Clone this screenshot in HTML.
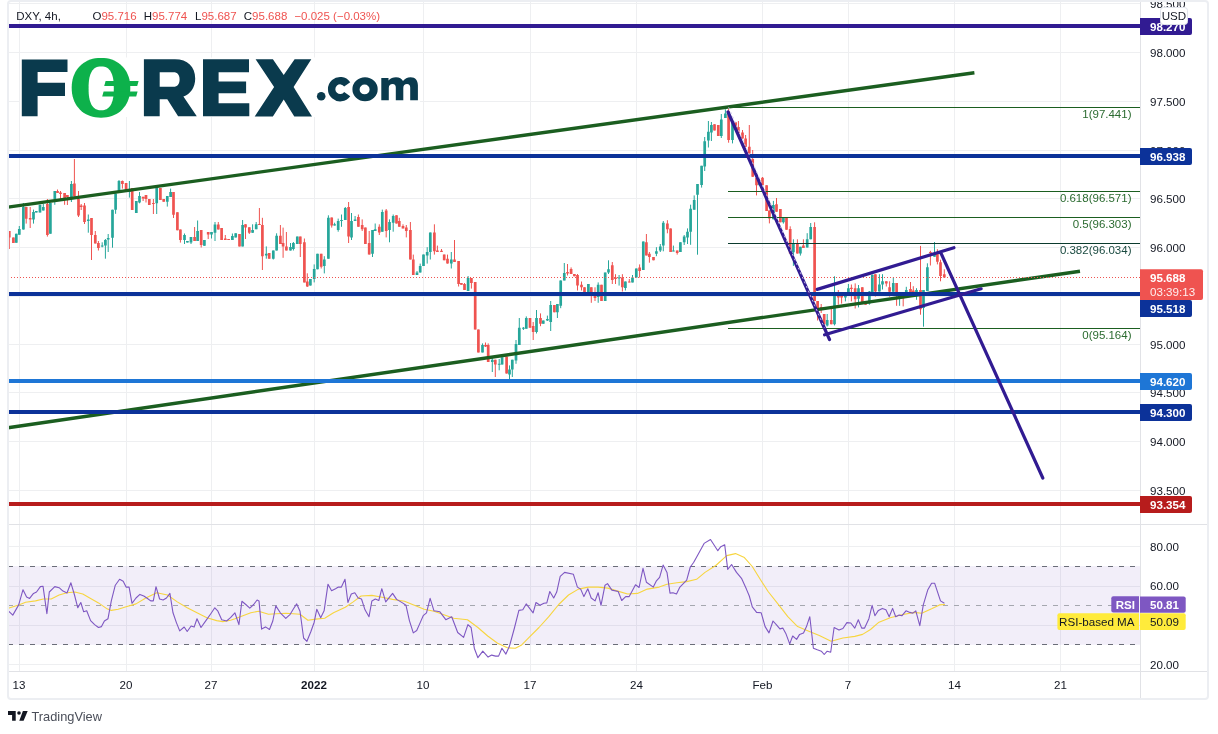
<!DOCTYPE html>
<html><head><meta charset="utf-8"><title>DXY 4h</title>
<style>html,body{margin:0;padding:0;background:#fff;overflow:hidden}body{width:1218px;height:734px;position:relative;font-family:"Liberation Sans",sans-serif}</style>
</head><body>
<svg width="1218" height="734" viewBox="0 0 1218 734" style="position:absolute;left:0;top:0;will-change:transform">
<rect width="1218" height="734" fill="#ffffff"/>
<path d="M19.5 1V671.5 M126.5 1V671.5 M211.5 1V671.5 M314.5 1V671.5 M423.5 1V671.5 M530.5 1V671.5 M636.5 1V671.5 M762.5 1V671.5 M848.5 1V671.5 M954.5 1V671.5 M1060.5 1V671.5 M8 3.5H1140.5 M8 52.5H1140.5 M8 101.5H1140.5 M8 150.5H1140.5 M8 198.5H1140.5 M8 247.5H1140.5 M8 296.5H1140.5 M8 344.5H1140.5 M8 392.5H1140.5 M8 441.5H1140.5 M8 490.5H1140.5 M8 546.5H1140.5 M8 586.5H1140.5 M8 625.5H1140.5 M8 664.5H1140.5" stroke="#eeeff1" stroke-width="1" fill="none"/>
<rect x="8" y="566.1" width="1132.5" height="78.7" fill="#7e57c2" fill-opacity="0.1"/>
<path d="M8 566.5H1140.5 M8 644.5H1140.5" stroke="#6a6d78" stroke-width="1" stroke-dasharray="5 6" fill="none"/>
<path d="M8 605.5H1140.5" stroke="#a5a7af" stroke-width="1" stroke-dasharray="5 6" fill="none"/>
<polyline points="8.3,608.2 18.7,604.9 25.6,602.3 35.5,600.9 43.3,599 51.2,599 59.1,595 67,592.7 74.9,592 82.8,594 90.6,598.4 98.5,602.9 106.4,608.4 111.3,610.4 118.2,609.2 126.1,606.8 136,603.9 145.8,598 156.7,592.7 167.5,595 177.3,601.9 187.2,607.8 197,612.8 206.9,617.7 216.7,620.6 222.7,621.6 230.5,620.2 235,618.7 242.9,615.7 250.8,612.8 258.6,611.2 268.5,614.3 276.4,613.7 286.2,613.2 300,614.3 307.9,620.2 315.8,619.1 324.7,618.3 333.5,612.8 345.3,607.2 353.2,601.9 361.1,596 371.9,595.4 380.8,597 392.6,599.4 404.5,601.3 414.3,605.3 424.2,609.2 434,611.2 443.9,614.7 453.7,618.3 467.5,619.7 477.9,627.5 487.7,636 497.6,643.3 507.4,647.8 515.3,648.2 521.2,645.3 529.1,637.4 539,627.5 548.8,616.7 558.7,604.5 568.5,595 578.4,589.1 588.2,587.1 598.1,587.1 607.9,588.1 617.8,591.1 627.6,594 637.5,593.4 647.3,589.1 659.2,587.1 667,584.2 676.9,582.8 686.7,581.6 696.6,579.3 705,572.4 715.8,565.5 726.7,555.6 735.5,553.6 744.4,557.6 752.3,566.5 760.2,579.3 768.1,591.5 777.9,603.9 787.8,616.7 797.6,626.6 809.4,631.5 819.3,635.4 831.1,641.3 842.9,638 854.8,636.4 862.6,634.4 870.5,629.5 878.4,622.6 890.2,617.7 902,614.7 913.9,612.4 921.7,613.2 931.6,608.8 939.5,604.9 945,604.5" fill="none" stroke="#f7d53f" stroke-width="1.1" stroke-linejoin="round"/>
<polyline points="8.3,610.8 12.8,615.1 18.7,604.9 23,589.7 26.6,597 29.6,598.4 33.5,593.4 36.5,592 40.4,586.6 43,586.2 46.9,613.7 49.3,592 54.8,586.6 59.1,587.7 63,591.1 67,593 70.9,582.8 74.5,595 77.8,607.8 80.8,602.5 83.7,611.8 86.7,610.8 90.6,620.6 94.6,624.6 98.5,627.5 101.5,626.6 104.4,621 108,618.7 111.3,600.9 115.3,585.2 119.6,579.3 123.2,581.2 126.1,587.1 129.1,587.1 132,603.3 136,598 139.9,594.4 143.8,596 146.8,598 150.7,600.9 153.3,600.9 156,586.7 159.6,599 163.1,600 166.5,598 169.9,593.4 173,612.8 176.4,622.6 179.7,630.9 184.2,627 187.2,631.5 191.1,626 194.1,627.1 197,618.7 201,627.5 205.9,620.6 210.8,613.7 214.8,607.8 217.7,610.8 221.7,619.7 226.6,621 230.5,617.7 234.9,612.8 238.9,624.6 241.9,601.3 245.8,604.5 249.8,608.2 253.7,604.5 257.1,600 259,600.9 261.6,629.1 265.5,626.9 269.5,629.5 272.8,621 275.8,605.9 280.3,612.8 285.8,618.3 290.2,614.3 293.5,608.8 296.7,603.9 300,611.2 303.6,638 306.9,641.3 310.9,631.5 314.2,622.2 316.8,609.2 320.7,617.7 324.1,610.8 328,584.2 331.6,590.7 335.5,588.7 338.4,587.1 341.4,587.1 345,579.3 347.9,602.5 351.3,594 354.8,592.7 358.2,598 361.5,599 365,609.8 369,616.7 371.9,600.9 375.3,599 378.8,600.5 381.8,588.7 385.7,601.9 392.6,593.4 396.6,599.4 402.5,602.9 406,605.3 409.4,620.6 413.3,632.9 416.7,630.5 420.2,622.6 423.2,615.7 426.5,612.8 430.1,598.4 434,610.8 439.9,611.8 445.8,619.7 451.7,616.7 457.7,632.5 463.6,637.4 467.9,624.6 471.1,627.5 474.3,648.2 477.9,657.7 482.8,651.2 488.1,657.1 491.7,655.1 495.6,656.1 498.6,656.1 501.9,648.2 505.9,654.1 509.4,646.3 514.3,628.5 518.9,610.4 522.8,609.8 526.2,603.9 533.1,612.8 536,602.5 540,605.3 543.9,603.3 546.8,602.9 549.8,591.5 553.7,598 556.7,592.1 560.2,576.3 564.6,572.4 573.4,574.3 577.4,587.1 580.7,589.1 583.9,596.6 587.8,588.7 591.2,598 595.1,600.9 598.1,592.7 601,605.3 605,585.2 607.5,583.6 611.9,590.1 618.2,591.5 621.7,600.5 625.7,596.6 629.2,596.6 635.5,584.8 639.1,587.5 643,568.4 646.4,582.2 653.3,587.1 656.2,581.2 659.6,577.3 663.1,565.1 667,572.4 670,593.1 673,592.7 676.5,594 679.9,587.1 686.7,580.2 690.3,567 693.6,562.5 698.6,553.6 704.1,543.4 710.5,539.5 717.8,550.7 720.8,546.7 724.7,544.8 727.7,569.4 731.6,564.5 736.5,572.4 741.5,578.3 746.4,589.1 749.3,596 752.3,606.8 756.6,612.4 761.2,612.8 765.1,626.6 769,632.9 773,621 776.3,624.6 779.9,628.9 782.8,628.1 785.8,633.4 789.7,643.9 792.7,636 796.6,639.4 799.6,634.4 803.5,632.9 806.5,626.6 809.8,616.7 813.4,648.2 817.3,649.8 821.3,651.2 824.2,654.5 827.2,651.2 830.7,652.2 834.1,627.5 839,630.1 842.9,628.5 846.9,622.6 850.8,623 854.8,628.1 858.3,619.7 861.7,628.1 864.6,628.1 868.9,618.7 872.1,605.3 874.9,615.7 878.4,610.4 882.3,608.4 885.9,609.8 889.2,616.7 892.6,608.4 895.7,616.7 899.1,615.1 902,615.7 906,610.8 909.9,612.4 912.9,613.2 915.8,610.8 919.8,625.6 923.3,604.9 927.7,590.1 931.6,583.2 934.6,583.2 940.5,600.9 944.4,603.3" fill="none" stroke="#7e57c2" stroke-width="1.1" stroke-linejoin="round"/>
<path d="M16.3 233.7V242.7 M19.3 226.0V234.7 M23.4 203.0V229.6 M33.5 209.6V223.6 M36.3 211.0V212.5 M40.0 204.8V212.5 M43.3 204.0V210.5 M50.4 203.0V233.7 M54.8 191.0V204.8 M71.4 181.0V202.0 M88.3 214.5V232.7 M102.2 242.3V247.3 M105.4 239.0V258.7 M108.2 234.0V252.0 M112.5 209.7V247.7 M115.6 193.5V213.8 M119.0 180.0V192.5 M129.4 181.0V197.6 M136.3 201.0V213.0 M139.5 192.0V203.3 M156.7 185.0V214.0 M167.3 196.0V206.6 M170.6 188.6V197.0 M184.5 233.5V244.0 M187.4 241.0V242.5 M191.0 237.0V244.0 M197.6 220.5V241.0 M204.4 240.0V245.8 M211.5 232.0V238.5 M215.0 222.0V241.0 M232.4 233.5V240.0 M235.7 233.3V237.4 M242.6 220.0V246.4 M252.6 224.3V232.8 M256.2 222.0V229.2 M266.3 246.4V258.7 M273.3 250.5V259.5 M276.6 233.3V250.5 M290.5 243.0V250.5 M293.4 242.0V250.5 M297.3 236.6V244.0 M310.4 279.0V285.6 M314.2 264.4V282.4 M317.5 253.8V269.3 M324.3 256.2V273.4 M328.4 215.3V258.7 M334.6 222.7V225.6 M338.2 218.6V231.7 M341.5 214.5V226.8 M345.3 207.0V220.0 M351.5 213.0V240.0 M355.1 216.0V221.0 M372.5 230.0V257.0 M375.2 223.5V231.0 M382.3 209.6V231.7 M389.5 219.4V242.3 M393.2 214.5V231.7 M417.0 271.0V275.0 M420.2 263.6V272.6 M423.5 254.6V266.0 M427.2 247.2V263.6 M430.3 232.5V259.5 M451.3 252.0V268.5 M468.1 276.0V291.0 M482.5 343.4V352.4 M492.3 358.0V372.0 M499.2 359.0V370.3 M502.1 357.3V364.6 M509.5 365.4V379.0 M512.3 359.7V377.0 M516.0 340.0V363.8 M519.3 318.0V345.0 M523.4 327.0V330.0 M526.3 316.4V328.7 M536.5 310.0V333.5 M543.3 320.5V323.8 M547.4 315.6V321.0 M550.7 301.0V331.0 M557.4 304.0V318.0 M560.7 280.4V308.2 M564.3 263.0V280.4 M588.4 284.0V292.0 M598.2 282.4V302.8 M605.2 272.6V301.0 M608.5 260.3V274.0 M619.1 275.0V285.6 M625.4 281.5V290.5 M632.5 275.0V282.4 M636.3 268.5V277.5 M643.3 241.5V270.0 M656.4 247.2V256.2 M660.3 244.0V252.0 M663.3 221.0V251.3 M673.4 245.6V251.3 M680.4 242.3V252.0 M684.2 235.0V245.0 M687.5 228.4V244.0 M690.6 204.7V244.8 M694.2 195.4V209.7 M697.5 184.0V254.7 M701.6 165.8V187.6 M704.7 137.0V171.0 M708.4 121.0V147.5 M711.4 122.0V141.0 M721.3 114.0V138.0 M725.4 109.3V118.0 M732.5 122.2V143.4 M759.5 181.8V185.2 M773.4 200.9V219.3 M783.4 218.0V223.6 M793.4 239.3V265.9 M800.4 246.8V255.6 M807.2 233.2V247.5 M810.7 223.0V239.3 M827.2 314.0V326.5 M834.5 276.3V325.4 M845.4 296.0V301.4 M848.4 284.0V292.7 M858.5 285.0V307.4 M869.4 291.0V304.7 M872.3 274.7V292.0 M879.4 274.2V291.6 M882.5 274.2V289.5 M893.3 277.5V291.7 M899.6 296.0V305.8 M906.3 286.8V292.2 M916.5 288.2V299.8 M923.5 290.0V326.7 M927.4 263.3V291.0 M934.5 242.0V256.8" stroke="#26a69a" stroke-width="1" fill="none"/>
<path d="M14.95 233.7h2.7V242.7h-2.7Z M17.95 229.0h2.7V234.7h-2.7Z M22.05 207.0h2.7V229.6h-2.7Z M32.15 212.0h2.7V219.5h-2.7Z M34.95 211.0h2.7V212.5h-2.7Z M38.65 204.8h2.7V212.5h-2.7Z M41.95 207.0h2.7V210.5h-2.7Z M49.05 203.0h2.7V233.7h-2.7Z M53.45 191.0h2.7V199.0h-2.7Z M70.05 184.0h2.7V197.0h-2.7Z M86.95 219.5h2.7V221.0h-2.7Z M100.85 245.6h2.7V246.6h-2.7Z M104.05 240.0h2.7V245.6h-2.7Z M106.85 238.0h2.7V239.6h-2.7Z M111.15 209.7h2.7V237.8h-2.7Z M114.25 193.5h2.7V209.7h-2.7Z M117.65 181.0h2.7V192.5h-2.7Z M128.05 191.0h2.7V192.0h-2.7Z M134.95 201.0h2.7V213.0h-2.7Z M138.15 196.0h2.7V202.5h-2.7Z M155.35 187.0h2.7V203.3h-2.7Z M165.95 196.0h2.7V201.7h-2.7Z M169.25 192.0h2.7V197.0h-2.7Z M183.15 235.0h2.7V240.0h-2.7Z M186.05 241.0h2.7V242.5h-2.7Z M189.65 237.0h2.7V242.5h-2.7Z M196.25 231.0h2.7V241.0h-2.7Z M203.05 240.0h2.7V245.8h-2.7Z M210.15 232.0h2.7V234.4h-2.7Z M213.65 224.6h2.7V232.7h-2.7Z M231.05 236.0h2.7V240.0h-2.7Z M234.35 233.3h2.7V237.4h-2.7Z M241.25 225.0h2.7V246.4h-2.7Z M251.25 230.0h2.7V232.8h-2.7Z M254.85 224.3h2.7V229.2h-2.7Z M264.95 253.8h2.7V255.4h-2.7Z M271.95 250.5h2.7V258.7h-2.7Z M275.25 235.8h2.7V250.5h-2.7Z M289.15 247.0h2.7V250.5h-2.7Z M292.05 243.0h2.7V249.0h-2.7Z M295.95 236.6h2.7V244.0h-2.7Z M309.05 279.0h2.7V285.6h-2.7Z M312.85 269.0h2.7V279.0h-2.7Z M316.15 253.8h2.7V269.3h-2.7Z M322.95 259.5h2.7V266.0h-2.7Z M327.05 217.8h2.7V258.7h-2.7Z M333.25 224.3h2.7V225.6h-2.7Z M336.85 221.0h2.7V230.0h-2.7Z M340.15 220.0h2.7V221.0h-2.7Z M343.95 208.0h2.7V220.0h-2.7Z M350.15 221.0h2.7V237.4h-2.7Z M353.75 219.4h2.7V221.0h-2.7Z M371.15 230.0h2.7V253.8h-2.7Z M373.85 229.2h2.7V231.0h-2.7Z M380.95 212.0h2.7V231.7h-2.7Z M388.15 222.0h2.7V230.0h-2.7Z M391.85 216.0h2.7V222.7h-2.7Z M415.65 272.6h2.7V275.0h-2.7Z M418.85 266.0h2.7V272.6h-2.7Z M422.15 254.6h2.7V266.0h-2.7Z M425.85 252.0h2.7V255.4h-2.7Z M428.95 232.5h2.7V252.0h-2.7Z M449.95 259.5h2.7V263.6h-2.7Z M466.75 278.0h2.7V291.0h-2.7Z M481.15 345.0h2.7V352.4h-2.7Z M490.95 359.7h2.7V362.0h-2.7Z M497.85 363.7h2.7V364.7h-2.7Z M500.75 357.3h2.7V364.6h-2.7Z M508.15 369.5h2.7V374.4h-2.7Z M510.95 359.7h2.7V369.5h-2.7Z M514.65 344.0h2.7V360.5h-2.7Z M517.95 327.8h2.7V345.0h-2.7Z M522.05 327.8h2.7V328.8h-2.7Z M524.95 318.0h2.7V328.7h-2.7Z M535.15 318.0h2.7V332.0h-2.7Z M541.95 320.5h2.7V323.8h-2.7Z M546.05 318.9h2.7V320.5h-2.7Z M549.35 305.0h2.7V322.0h-2.7Z M556.05 304.0h2.7V312.3h-2.7Z M559.35 280.4h2.7V305.8h-2.7Z M562.95 273.0h2.7V280.4h-2.7Z M587.05 284.0h2.7V292.0h-2.7Z M596.85 284.8h2.7V297.0h-2.7Z M603.85 272.6h2.7V301.0h-2.7Z M607.15 269.3h2.7V272.6h-2.7Z M617.75 277.4h2.7V278.4h-2.7Z M624.05 281.5h2.7V288.0h-2.7Z M631.15 277.5h2.7V282.4h-2.7Z M634.95 268.5h2.7V277.5h-2.7Z M641.95 241.5h2.7V270.0h-2.7Z M655.05 251.3h2.7V253.8h-2.7Z M658.95 246.4h2.7V250.5h-2.7Z M661.95 222.7h2.7V245.6h-2.7Z M672.05 250.4h2.7V251.4h-2.7Z M679.05 242.3h2.7V252.0h-2.7Z M682.85 236.6h2.7V242.3h-2.7Z M686.15 231.7h2.7V237.4h-2.7Z M689.25 208.8h2.7V231.7h-2.7Z M692.85 200.0h2.7V209.7h-2.7Z M696.15 184.0h2.7V194.8h-2.7Z M700.25 165.8h2.7V185.0h-2.7Z M703.35 141.3h2.7V166.5h-2.7Z M707.05 131.8h2.7V140.6h-2.7Z M710.05 125.0h2.7V132.5h-2.7Z M719.95 119.5h2.7V136.0h-2.7Z M724.05 113.4h2.7V118.0h-2.7Z M731.15 122.2h2.7V140.0h-2.7Z M758.15 181.8h2.7V185.2h-2.7Z M772.05 205.0h2.7V219.3h-2.7Z M782.05 218.0h2.7V222.3h-2.7Z M792.05 244.0h2.7V252.2h-2.7Z M799.05 246.8h2.7V253.6h-2.7Z M805.85 239.3h2.7V247.5h-2.7Z M809.35 227.0h2.7V239.3h-2.7Z M825.85 320.0h2.7V325.4h-2.7Z M833.15 296.0h2.7V324.3h-2.7Z M844.05 296.0h2.7V297.6h-2.7Z M847.05 288.3h2.7V292.7h-2.7Z M857.15 288.3h2.7V298.7h-2.7Z M868.05 291.6h2.7V303.6h-2.7Z M870.95 274.7h2.7V292.0h-2.7Z M878.05 284.5h2.7V291.6h-2.7Z M881.15 281.3h2.7V284.5h-2.7Z M891.95 283.0h2.7V291.7h-2.7Z M898.25 296.0h2.7V298.2h-2.7Z M904.95 290.0h2.7V292.2h-2.7Z M915.15 290.0h2.7V292.2h-2.7Z M922.15 290.0h2.7V308.0h-2.7Z M926.05 267.2h2.7V291.0h-2.7Z M933.15 253.5h2.7V256.8h-2.7Z" fill="#26a69a"/>
<path d="M9.3 231.0V249.0 M13.4 237.5V243.0 M26.2 207.0V223.6 M30.2 207.0V228.0 M47.4 199.0V236.6 M57.5 189.5V193.0 M60.5 191.0V199.0 M64.6 193.0V204.8 M67.4 195.0V205.0 M74.4 159.0V196.6 M78.5 191.0V217.0 M81.2 204.0V210.0 M84.5 203.0V224.0 M91.5 218.0V260.0 M95.3 231.0V243.5 M98.4 241.0V250.5 M122.4 180.5V188.6 M126.1 183.0V190.0 M132.2 188.0V210.0 M143.1 196.8V201.0 M146.0 195.0V202.5 M149.3 199.0V205.0 M153.4 199.0V214.0 M160.4 188.0V200.0 M163.7 199.0V201.7 M173.5 192.0V218.0 M177.4 212.3V230.3 M180.4 229.5V242.6 M194.6 227.0V241.0 M201.2 230.0V247.5 M208.2 232.0V239.0 M218.3 222.0V229.5 M221.6 228.0V240.0 M225.3 235.0V240.0 M228.6 239.0V240.0 M239.5 234.0V246.4 M245.5 224.3V239.0 M249.3 227.3V234.0 M259.4 208.0V225.0 M262.4 217.8V270.0 M269.2 253.0V258.7 M280.4 225.0V244.0 M283.1 227.6V257.8 M286.4 232.0V250.5 M300.3 236.6V257.0 M304.4 238.5V282.4 M307.3 273.3V287.0 M321.2 253.8V268.5 M331.7 217.5V227.6 M348.6 202.0V243.0 M358.4 214.5V226.8 M362.2 219.4V231.0 M365.4 227.6V244.0 M369.2 231.0V254.6 M379.3 224.3V235.0 M386.2 209.0V237.4 M396.5 215.3V223.5 M399.3 217.8V226.8 M403.0 224.3V228.4 M406.3 225.0V237.4 M410.4 222.0V259.5 M413.3 254.6V275.0 M434.4 224.3V254.6 M437.4 245.6V252.0 M441.5 249.0V252.0 M444.2 254.6V260.3 M447.5 254.6V263.6 M454.5 240.0V262.0 M458.6 261.0V286.5 M461.4 283.0V284.8 M464.5 283.0V290.0 M471.4 278.0V288.6 M475.2 282.0V329.5 M478.4 329.5V352.4 M485.5 342.5V347.0 M488.2 343.4V362.0 M495.3 359.7V377.0 M506.6 356.5V373.6 M530.0 318.0V327.8 M533.2 322.0V340.0 M540.5 313.4V326.2 M554.4 305.0V312.3 M567.5 264.0V275.5 M571.1 267.4V274.0 M574.4 274.0V276.3 M577.5 274.0V290.5 M581.5 281.5V290.5 M584.5 287.3V292.0 M591.3 287.3V302.8 M595.0 287.3V301.0 M601.5 284.8V301.0 M612.3 262.0V284.0 M615.5 274.2V284.0 M622.4 274.2V291.5 M629.3 279.0V282.4 M639.6 264.4V277.5 M646.4 234.0V255.4 M649.4 252.0V262.7 M653.5 257.0V260.3 M667.4 220.2V233.3 M670.6 228.4V252.0 M677.2 250.5V254.6 M714.5 124.3V130.4 M718.3 125.0V136.0 M728.6 107.3V142.7 M735.6 122.2V128.4 M738.4 121.0V133.0 M742.5 130.0V138.6 M745.6 135.0V146.8 M749.3 125.0V153.6 M752.7 150.0V177.0 M756.5 177.7V195.4 M762.5 177.0V185.2 M766.6 185.2V211.0 M769.4 210.4V223.4 M776.5 198.0V211.8 M780.4 209.0V222.3 M786.5 218.0V229.8 M790.2 226.3V253.6 M797.4 239.3V253.6 M803.4 239.3V248.0 M814.6 222.3V301.0 M817.6 301.0V320.5 M821.2 304.0V313.0 M824.2 314.0V324.3 M831.3 309.0V324.3 M838.3 290.0V304.7 M841.6 296.0V303.6 M851.4 284.5V301.4 M855.2 283.4V308.5 M862.3 287.2V304.1 M865.6 303.6V304.7 M875.4 274.2V296.5 M886.3 281.3V286.5 M889.6 281.3V296.6 M896.6 283.0V305.8 M903.2 296.0V306.4 M910.5 282.0V292.2 M913.3 286.2V292.2 M920.5 245.9V314.7 M930.4 250.8V265.5 M937.4 249.2V264.4 M940.5 259.7V281.3 M944.3 269.3V277.5" stroke="#ef5350" stroke-width="1" fill="none"/>
<path d="M7.95 231.0h2.7V237.5h-2.7Z M12.05 237.5h2.7V243.0h-2.7Z M24.85 207.0h2.7V218.7h-2.7Z M28.85 218.0h2.7V219.5h-2.7Z M46.05 204.0h2.7V235.0h-2.7Z M56.15 191.0h2.7V193.0h-2.7Z M59.15 192.5h2.7V194.0h-2.7Z M63.25 193.0h2.7V199.0h-2.7Z M66.05 195.0h2.7V197.0h-2.7Z M73.05 183.5h2.7V196.6h-2.7Z M77.15 199.0h2.7V215.4h-2.7Z M79.85 205.6h2.7V207.0h-2.7Z M83.15 205.6h2.7V222.0h-2.7Z M90.15 218.0h2.7V235.0h-2.7Z M93.95 235.0h2.7V243.5h-2.7Z M97.05 243.0h2.7V248.0h-2.7Z M121.05 181.0h2.7V184.0h-2.7Z M124.75 183.0h2.7V190.0h-2.7Z M130.85 188.0h2.7V210.0h-2.7Z M141.75 196.8h2.7V198.4h-2.7Z M144.65 195.0h2.7V199.0h-2.7Z M147.95 199.0h2.7V205.0h-2.7Z M152.05 203.0h2.7V204.0h-2.7Z M159.05 188.0h2.7V200.0h-2.7Z M162.35 199.0h2.7V201.7h-2.7Z M172.15 192.0h2.7V214.8h-2.7Z M176.05 212.3h2.7V230.3h-2.7Z M179.05 229.5h2.7V240.0h-2.7Z M193.25 237.0h2.7V241.0h-2.7Z M199.85 230.0h2.7V245.0h-2.7Z M206.85 232.0h2.7V234.4h-2.7Z M216.95 224.6h2.7V229.5h-2.7Z M220.25 228.0h2.7V240.0h-2.7Z M223.95 238.5h2.7V240.0h-2.7Z M227.25 239.0h2.7V240.0h-2.7Z M238.15 234.0h2.7V246.4h-2.7Z M244.15 224.3h2.7V227.6h-2.7Z M247.95 227.3h2.7V232.8h-2.7Z M258.05 224.0h2.7V225.0h-2.7Z M261.05 225.0h2.7V256.2h-2.7Z M267.85 253.0h2.7V258.7h-2.7Z M279.05 235.8h2.7V244.0h-2.7Z M281.75 243.0h2.7V246.4h-2.7Z M285.05 246.4h2.7V250.5h-2.7Z M298.95 236.6h2.7V244.0h-2.7Z M303.05 242.3h2.7V282.4h-2.7Z M305.95 281.5h2.7V286.5h-2.7Z M319.85 253.8h2.7V266.8h-2.7Z M330.35 217.5h2.7V225.6h-2.7Z M347.25 207.0h2.7V236.6h-2.7Z M357.05 217.0h2.7V226.8h-2.7Z M360.85 225.0h2.7V229.2h-2.7Z M364.05 227.6h2.7V244.0h-2.7Z M367.85 243.0h2.7V254.6h-2.7Z M377.95 226.8h2.7V232.5h-2.7Z M384.85 210.4h2.7V231.0h-2.7Z M395.15 215.3h2.7V223.5h-2.7Z M397.95 221.0h2.7V226.8h-2.7Z M401.65 226.0h2.7V228.4h-2.7Z M404.95 227.6h2.7V231.0h-2.7Z M409.05 230.0h2.7V259.5h-2.7Z M411.95 259.5h2.7V275.0h-2.7Z M433.05 232.5h2.7V251.3h-2.7Z M436.05 250.5h2.7V252.0h-2.7Z M440.15 250.8h2.7V252.0h-2.7Z M442.85 254.6h2.7V260.3h-2.7Z M446.15 258.7h2.7V263.6h-2.7Z M453.15 259.5h2.7V262.0h-2.7Z M457.25 261.0h2.7V284.0h-2.7Z M460.05 283.0h2.7V284.8h-2.7Z M463.15 284.0h2.7V290.0h-2.7Z M470.05 278.0h2.7V283.0h-2.7Z M473.85 282.0h2.7V329.5h-2.7Z M477.05 329.5h2.7V352.4h-2.7Z M484.15 345.0h2.7V346.6h-2.7Z M486.85 345.0h2.7V362.0h-2.7Z M493.95 359.7h2.7V364.6h-2.7Z M505.25 356.5h2.7V373.6h-2.7Z M528.65 318.0h2.7V327.8h-2.7Z M531.85 326.0h2.7V332.0h-2.7Z M539.15 318.0h2.7V323.8h-2.7Z M553.05 305.0h2.7V312.3h-2.7Z M566.15 272.0h2.7V273.4h-2.7Z M569.75 269.0h2.7V274.0h-2.7Z M573.05 274.0h2.7V276.3h-2.7Z M576.15 275.0h2.7V285.6h-2.7Z M580.15 284.8h2.7V287.3h-2.7Z M583.15 287.3h2.7V292.0h-2.7Z M589.95 287.3h2.7V293.0h-2.7Z M593.65 293.0h2.7V298.0h-2.7Z M600.15 284.8h2.7V301.0h-2.7Z M610.95 265.2h2.7V280.0h-2.7Z M614.15 277.5h2.7V279.0h-2.7Z M621.05 277.5h2.7V287.3h-2.7Z M627.95 281.4h2.7V282.4h-2.7Z M638.25 267.6h2.7V271.0h-2.7Z M645.05 242.3h2.7V255.4h-2.7Z M648.05 253.8h2.7V257.0h-2.7Z M652.15 257.0h2.7V260.3h-2.7Z M666.05 223.5h2.7V229.2h-2.7Z M669.25 228.4h2.7V252.0h-2.7Z M675.85 250.5h2.7V253.0h-2.7Z M713.15 124.3h2.7V130.4h-2.7Z M716.95 125.0h2.7V136.0h-2.7Z M727.25 111.3h2.7V140.0h-2.7Z M734.25 122.2h2.7V128.4h-2.7Z M737.05 127.0h2.7V133.0h-2.7Z M741.15 132.5h2.7V138.6h-2.7Z M744.25 138.6h2.7V146.8h-2.7Z M747.95 146.8h2.7V153.6h-2.7Z M751.35 159.0h2.7V176.7h-2.7Z M755.15 177.7h2.7V185.2h-2.7Z M761.15 177.7h2.7V185.2h-2.7Z M765.25 185.2h2.7V211.0h-2.7Z M768.05 210.4h2.7V218.6h-2.7Z M775.15 204.3h2.7V211.8h-2.7Z M779.05 209.0h2.7V222.3h-2.7Z M785.15 218.0h2.7V229.8h-2.7Z M788.85 229.0h2.7V253.6h-2.7Z M796.05 244.0h2.7V253.6h-2.7Z M802.05 245.4h2.7V248.0h-2.7Z M813.25 227.0h2.7V301.0h-2.7Z M816.25 301.0h2.7V309.0h-2.7Z M819.85 307.0h2.7V309.0h-2.7Z M822.85 314.0h2.7V324.3h-2.7Z M829.95 320.0h2.7V324.3h-2.7Z M836.95 296.0h2.7V297.6h-2.7Z M840.25 296.0h2.7V297.6h-2.7Z M850.05 287.8h2.7V289.0h-2.7Z M853.85 288.3h2.7V299.2h-2.7Z M860.95 287.2h2.7V304.1h-2.7Z M864.25 303.6h2.7V304.7h-2.7Z M874.05 274.2h2.7V291.6h-2.7Z M884.95 281.3h2.7V283.4h-2.7Z M888.25 287.3h2.7V291.7h-2.7Z M895.25 283.0h2.7V296.0h-2.7Z M901.85 296.0h2.7V298.2h-2.7Z M909.15 289.0h2.7V292.2h-2.7Z M911.95 290.6h2.7V292.2h-2.7Z M919.15 290.0h2.7V309.3h-2.7Z M929.05 251.9h2.7V253.0h-2.7Z M936.05 254.0h2.7V261.7h-2.7Z M939.15 262.2h2.7V275.9h-2.7Z M942.95 274.2h2.7V277.5h-2.7Z" fill="#ef5350"/>
<path d="M8 207.1L974.4 72.7 M8 427.7L1080 271.2" stroke="#1b5e20" stroke-width="3.4" stroke-linecap="butt" fill="none"/>
<path d="M8 277.5H1140.5" stroke="#ef5350" stroke-width="1" stroke-dasharray="1 2"/>
<path d="M8 26H1140.5" stroke="#311b92" stroke-width="4"/>
<path d="M8 156H1140.5" stroke="#0c3299" stroke-width="4"/>
<path d="M8 294H1140.5" stroke="#0c3299" stroke-width="4"/>
<path d="M8 381H1140.5" stroke="#1e76d6" stroke-width="4"/>
<path d="M8 412H1140.5" stroke="#0c3299" stroke-width="4"/>
<path d="M8 504H1140.5" stroke="#b71c1c" stroke-width="4"/>
<path d="M728 107.5H1140.5" stroke="#1b5e20" stroke-width="1"/>
<text x="1131.5" y="117.5" font-family="Liberation Sans" font-size="11.5" fill="#2b6b30" text-anchor="end">1(97.441)</text>
<path d="M728 191.5H1140.5" stroke="#1b5e20" stroke-width="1"/>
<text x="1131.5" y="201.5" font-family="Liberation Sans" font-size="11.5" fill="#2b6b30" text-anchor="end">0.618(96.571)</text>
<path d="M728 217.5H1140.5" stroke="#1b5e20" stroke-width="1"/>
<text x="1131.5" y="227.5" font-family="Liberation Sans" font-size="11.5" fill="#2b6b30" text-anchor="end">0.5(96.303)</text>
<path d="M728 243.5H1140.5" stroke="#0b3b2e" stroke-width="1"/>
<text x="1131.5" y="253.5" font-family="Liberation Sans" font-size="11.5" fill="#1a4a40" text-anchor="end">0.382(96.034)</text>
<path d="M728 328.5H1140.5" stroke="#1b5e20" stroke-width="1"/>
<text x="1131.5" y="338.5" font-family="Liberation Sans" font-size="11.5" fill="#2b6b30" text-anchor="end">0(95.164)</text>
<path d="M728 112L829.5 339.5 M817.2 289.4L953.9 247.7 M824.6 334.8L981.1 288.8 M940.9 253L1042.8 478" stroke="#311b92" stroke-width="3.2" stroke-linecap="round" fill="none"/>
<path d="M728.6 107.3L824.5 328" stroke="#c9c2e6" stroke-width="1" stroke-dasharray="2 3" fill="none"/>
<path d="M1140.5 0V698 M8 524.5H1207.5 M8 671.5H1207.5" stroke="#e1e2e6" stroke-width="1"/>
<text x="1150" y="7.5" font-family="Liberation Sans" font-size="11.6" fill="#131722">98.500</text>
<text x="1150" y="56.5" font-family="Liberation Sans" font-size="11.6" fill="#131722">98.000</text>
<text x="1150" y="105.5" font-family="Liberation Sans" font-size="11.6" fill="#131722">97.500</text>
<text x="1150" y="154.5" font-family="Liberation Sans" font-size="11.6" fill="#131722">97.000</text>
<text x="1150" y="202.5" font-family="Liberation Sans" font-size="11.6" fill="#131722">96.500</text>
<text x="1150" y="251.5" font-family="Liberation Sans" font-size="11.6" fill="#131722">96.000</text>
<text x="1150" y="300.5" font-family="Liberation Sans" font-size="11.6" fill="#131722">95.500</text>
<text x="1150" y="348.5" font-family="Liberation Sans" font-size="11.6" fill="#131722">95.000</text>
<text x="1150" y="396.5" font-family="Liberation Sans" font-size="11.6" fill="#131722">94.500</text>
<text x="1150" y="445.5" font-family="Liberation Sans" font-size="11.6" fill="#131722">94.000</text>
<text x="1150" y="494.5" font-family="Liberation Sans" font-size="11.6" fill="#131722">93.500</text>
<text x="1150" y="550.6" font-family="Liberation Sans" font-size="11.6" fill="#131722">80.00</text>
<text x="1150" y="589.9" font-family="Liberation Sans" font-size="11.6" fill="#131722">60.00</text>
<text x="1150" y="668.6" font-family="Liberation Sans" font-size="11.6" fill="#131722">20.00</text>
<path d="M1140 18H1190Q1192 18 1192 20V33Q1192 35 1190 35H1140Z" fill="#311b92"/>
<text x="1150" y="30.7" font-family="Liberation Sans" font-size="11.6" font-weight="bold" fill="#ffffff">98.270</text>
<path d="M1140 148H1190Q1192 148 1192 150V163Q1192 165 1190 165H1140Z" fill="#0c3299"/>
<text x="1150" y="160.7" font-family="Liberation Sans" font-size="11.6" font-weight="bold" fill="#ffffff">96.938</text>
<path d="M1140 373H1190Q1192 373 1192 375V388Q1192 390 1190 390H1140Z" fill="#1e76d6"/>
<text x="1150" y="385.7" font-family="Liberation Sans" font-size="11.6" font-weight="bold" fill="#ffffff">94.620</text>
<path d="M1140 404H1190Q1192 404 1192 406V419Q1192 421 1190 421H1140Z" fill="#0c3299"/>
<text x="1150" y="416.7" font-family="Liberation Sans" font-size="11.6" font-weight="bold" fill="#ffffff">94.300</text>
<path d="M1140 496H1190Q1192 496 1192 498V511Q1192 513 1190 513H1140Z" fill="#b71c1c"/>
<text x="1150" y="508.7" font-family="Liberation Sans" font-size="11.6" font-weight="bold" fill="#ffffff">93.354</text>
<path d="M1140 269.2H1201Q1203 269.2 1203 271.2V298Q1203 300 1201 300H1140Z" fill="#ef5350"/>
<text x="1150" y="281.8" font-family="Liberation Sans" font-size="11.6" font-weight="bold" fill="#fff">95.688</text>
<text x="1150" y="295.6" font-family="Liberation Sans" font-size="11.6" fill="#fff" fill-opacity="0.9">03:39:13</text>
<path d="M1140 300H1190Q1192 300 1192 302V315Q1192 317 1190 317H1140Z" fill="#0c3299"/>
<text x="1150" y="312.7" font-family="Liberation Sans" font-size="11.6" font-weight="bold" fill="#ffffff">95.518</text>
<rect x="1160.5" y="7.5" width="27" height="17" rx="3" fill="#fff" stroke="#e0e3eb"/>
<text x="1174" y="20.2" font-family="Liberation Sans" font-size="11.6" fill="#131722" text-anchor="middle">USD</text>
<path d="M1113.3 596.2H1139V612.6H1113.3Q1111.3 612.6 1111.3 610.6V598.2Q1111.3 596.2 1113.3 596.2Z" fill="#7e57c2"/>
<text x="1135" y="608.6" font-family="Liberation Sans" font-size="11.6" font-weight="bold" fill="#fff" text-anchor="end">RSI</text>
<path d="M1140 596.4H1183.7Q1185.7 596.4 1185.7 598.4V610.7Q1185.7 612.7 1183.7 612.7H1140Z" fill="#7e57c2"/>
<text x="1150" y="608.6" font-family="Liberation Sans" font-size="11.6" font-weight="bold" fill="#fff">50.81</text>
<path d="M1059.4 613.3H1139V629.9H1059.4Q1057.4 629.9 1057.4 627.9V615.3Q1057.4 613.3 1059.4 613.3Z" fill="#ffeb3b"/>
<text x="1134.5" y="625.6" font-family="Liberation Sans" font-size="11.6" fill="#131722" text-anchor="end">RSI-based MA</text>
<path d="M1140 613.3H1183.7Q1185.7 613.3 1185.7 615.3V627.9Q1185.7 629.9 1183.7 629.9H1140Z" fill="#ffeb3b"/>
<text x="1150" y="625.6" font-family="Liberation Sans" font-size="11.6" fill="#131722">50.09</text>
<rect x="8" y="1" width="1200" height="698" rx="3" fill="none" stroke="#eceef2" stroke-width="2"/>
<text x="19" y="689" font-family="Liberation Sans" font-size="11.6" fill="#131722" text-anchor="middle">13</text>
<text x="126" y="689" font-family="Liberation Sans" font-size="11.6" fill="#131722" text-anchor="middle">20</text>
<text x="211" y="689" font-family="Liberation Sans" font-size="11.6" fill="#131722" text-anchor="middle">27</text>
<text x="314" y="689" font-family="Liberation Sans" font-size="11.6" font-weight="bold" fill="#131722" text-anchor="middle">2022</text>
<text x="423" y="689" font-family="Liberation Sans" font-size="11.6" fill="#131722" text-anchor="middle">10</text>
<text x="530" y="689" font-family="Liberation Sans" font-size="11.6" fill="#131722" text-anchor="middle">17</text>
<text x="636.5" y="689" font-family="Liberation Sans" font-size="11.6" fill="#131722" text-anchor="middle">24</text>
<text x="762.5" y="689" font-family="Liberation Sans" font-size="11.6" fill="#131722" text-anchor="middle">Feb</text>
<text x="848" y="689" font-family="Liberation Sans" font-size="11.6" fill="#131722" text-anchor="middle">7</text>
<text x="954.5" y="689" font-family="Liberation Sans" font-size="11.6" fill="#131722" text-anchor="middle">14</text>
<text x="1060.5" y="689" font-family="Liberation Sans" font-size="11.6" fill="#131722" text-anchor="middle">21</text>
<text y="20" font-family="Liberation Sans" font-size="11.5" fill="#131722"><tspan x="16.3">DXY, 4h,</tspan><tspan x="92.5">O</tspan><tspan fill="#ef5350">95.716</tspan><tspan x="143.7">H</tspan><tspan fill="#ef5350">95.774</tspan><tspan x="195">L</tspan><tspan fill="#ef5350">95.687</tspan><tspan x="243.8">C</tspan><tspan fill="#ef5350">95.688</tspan><tspan x="294.4" fill="#ef5350">−0.025 (−0.03%)</tspan></text>
<rect x="20" y="57.5" width="400" height="59.5" fill="#fff"/>
<path d="M21.8 59.5H67.5V72.1H37.6V82.8H65V96H37.6V116.3H21.8Z" fill="#0a3a4d"/>
<path d="M130.30,87.80 L130.20,90.89 L129.89,93.67 L129.37,96.30 L128.65,98.82 L127.74,101.22 L126.63,103.49 L125.34,105.63 L123.87,107.62 L122.23,109.46 L120.42,111.13 L118.47,112.64 L116.38,113.96 L114.15,115.09 L111.80,116.02 L109.33,116.75 L106.75,117.28 L104.03,117.59 L101.00,117.70 L97.97,117.59 L95.25,117.28 L92.67,116.75 L90.20,116.02 L87.85,115.09 L85.62,113.96 L83.53,112.64 L81.58,111.13 L79.77,109.46 L78.13,107.62 L76.66,105.63 L75.37,103.49 L74.26,101.22 L73.35,98.82 L72.63,96.30 L72.11,93.67 L71.80,90.89 L71.70,87.80 L71.80,84.71 L72.11,81.93 L72.63,79.30 L73.35,76.78 L74.26,74.38 L75.37,72.11 L76.66,69.97 L78.13,67.98 L79.77,66.14 L81.58,64.47 L83.53,62.96 L85.62,61.64 L87.85,60.51 L90.20,59.58 L92.67,58.85 L95.25,58.32 L97.97,58.01 L101.00,57.90 L104.03,58.01 L106.75,58.32 L109.33,58.85 L111.80,59.58 L114.15,60.51 L116.38,61.64 L118.47,62.96 L120.42,64.47 L122.23,66.14 L123.87,67.98 L125.34,69.97 L126.63,72.11 L127.74,74.38 L128.65,76.78 L129.37,79.30 L129.89,81.93 L130.20,84.71Z" fill="#0db14b"/>
<path d="M113.80,88.30 L113.76,91.41 L113.65,93.70 L113.46,95.73 L113.19,97.58 L112.85,99.30 L112.43,100.88 L111.94,102.34 L111.38,103.68 L110.75,104.90 L110.05,105.99 L109.28,106.97 L108.44,107.82 L107.53,108.54 L106.54,109.14 L105.47,109.60 L104.31,109.93 L102.99,110.13 L101.20,110.20 L99.41,110.13 L98.09,109.93 L96.93,109.60 L95.86,109.14 L94.87,108.54 L93.96,107.82 L93.12,106.97 L92.35,105.99 L91.65,104.90 L91.02,103.68 L90.46,102.34 L89.97,100.88 L89.55,99.30 L89.21,97.58 L88.94,95.73 L88.75,93.70 L88.64,91.41 L88.60,88.30 L88.64,85.19 L88.75,82.90 L88.94,80.87 L89.21,79.02 L89.55,77.30 L89.97,75.72 L90.46,74.26 L91.02,72.92 L91.65,71.70 L92.35,70.61 L93.12,69.63 L93.96,68.78 L94.87,68.06 L95.86,67.46 L96.93,67.00 L98.09,66.67 L99.41,66.47 L101.20,66.40 L102.99,66.47 L104.31,66.67 L105.47,67.00 L106.54,67.46 L107.53,68.06 L108.44,68.78 L109.28,69.63 L110.05,70.61 L110.75,71.70 L111.38,72.92 L111.94,74.26 L112.43,75.72 L112.85,77.30 L113.19,79.02 L113.46,80.87 L113.65,82.90 L113.76,85.19Z" fill="#fff"/>
<path d="M105.6 80.9H138.6L137.2 86.1H104.2Z M103.6 91.4H137.6L136.2 96.6H102.2Z" fill="#0db14b"/>
<path fill-rule="evenodd" d="M143.9 59.2H175C187.5 59.2 195.2 66.5 195.2 78.5C195.2 87.5 190.5 94 183.4 96.6L196.8 116.3H178.1L167.3 99.2H159.7V116.3H143.9Z M159.7 72.3H173.5C177.5 72.3 179.6 75 179.6 79.5C179.6 84 177.5 86.8 173.5 86.8H159.7Z" fill="#0a3a4d"/>
<path d="M203 59.2H249V72.3H218.6V81.5H246.1V93.3H218.6V103.2H249.3V116.3H203Z" fill="#0a3a4d"/>
<path d="M255.6 59.2H272.9L283.7 75.1L294.6 59.2H311.3L293.6 87L312 116.5H294.3L283.7 99.5L272.9 116.5H254.7L274.1 87Z" fill="#0a3a4d"/>
<circle cx="321.2" cy="96.2" r="4.3" fill="#0a3a4d"/>
<path d="M347.20 84.30A8.55 8.55 0 1 0 347.20 94.10" stroke="#0a3a4d" stroke-width="7.4" fill="none"/>
<path fill-rule="evenodd" d="M352.4 89.2A12.65 12 0 1 0 377.7 89.2A12.65 12 0 1 0 352.4 89.2Z M359.6 89.4A5 4.95 0 1 0 369.6 89.4A5 4.95 0 1 0 359.6 89.4Z" fill="#0a3a4d"/>
<path d="M381.3 100.3V78.1H388.5V80.5C390.5 78.3 393 77.2 396 77.2C399.5 77.2 401.8 78.7 403 81C404.8 78.6 407.3 77.2 410.6 77.2C415.5 77.2 417.9 80.5 417.9 85.5V100.3H410.2V87.5C410.2 85.3 409.2 84 407 84C404.7 84 403.3 85.6 403.3 88V100.3H395.8V87.5C395.8 85.3 394.8 84 392.6 84C390.3 84 388.8 85.6 388.8 88V100.3Z" fill="#0a3a4d"/>
<path d="M8 711.1H15.7V720.8H12.1V714.9H8Z M22.9 711.1H27.7L23.6 720.8H19.3Z" fill="#131722"/><circle cx="19" cy="713" r="1.8" fill="#131722"/>
<text x="31.5" y="721.3" font-family="Liberation Sans" font-size="12.8" fill="#4a4e59">TradingView</text>
</svg>
</body></html>
